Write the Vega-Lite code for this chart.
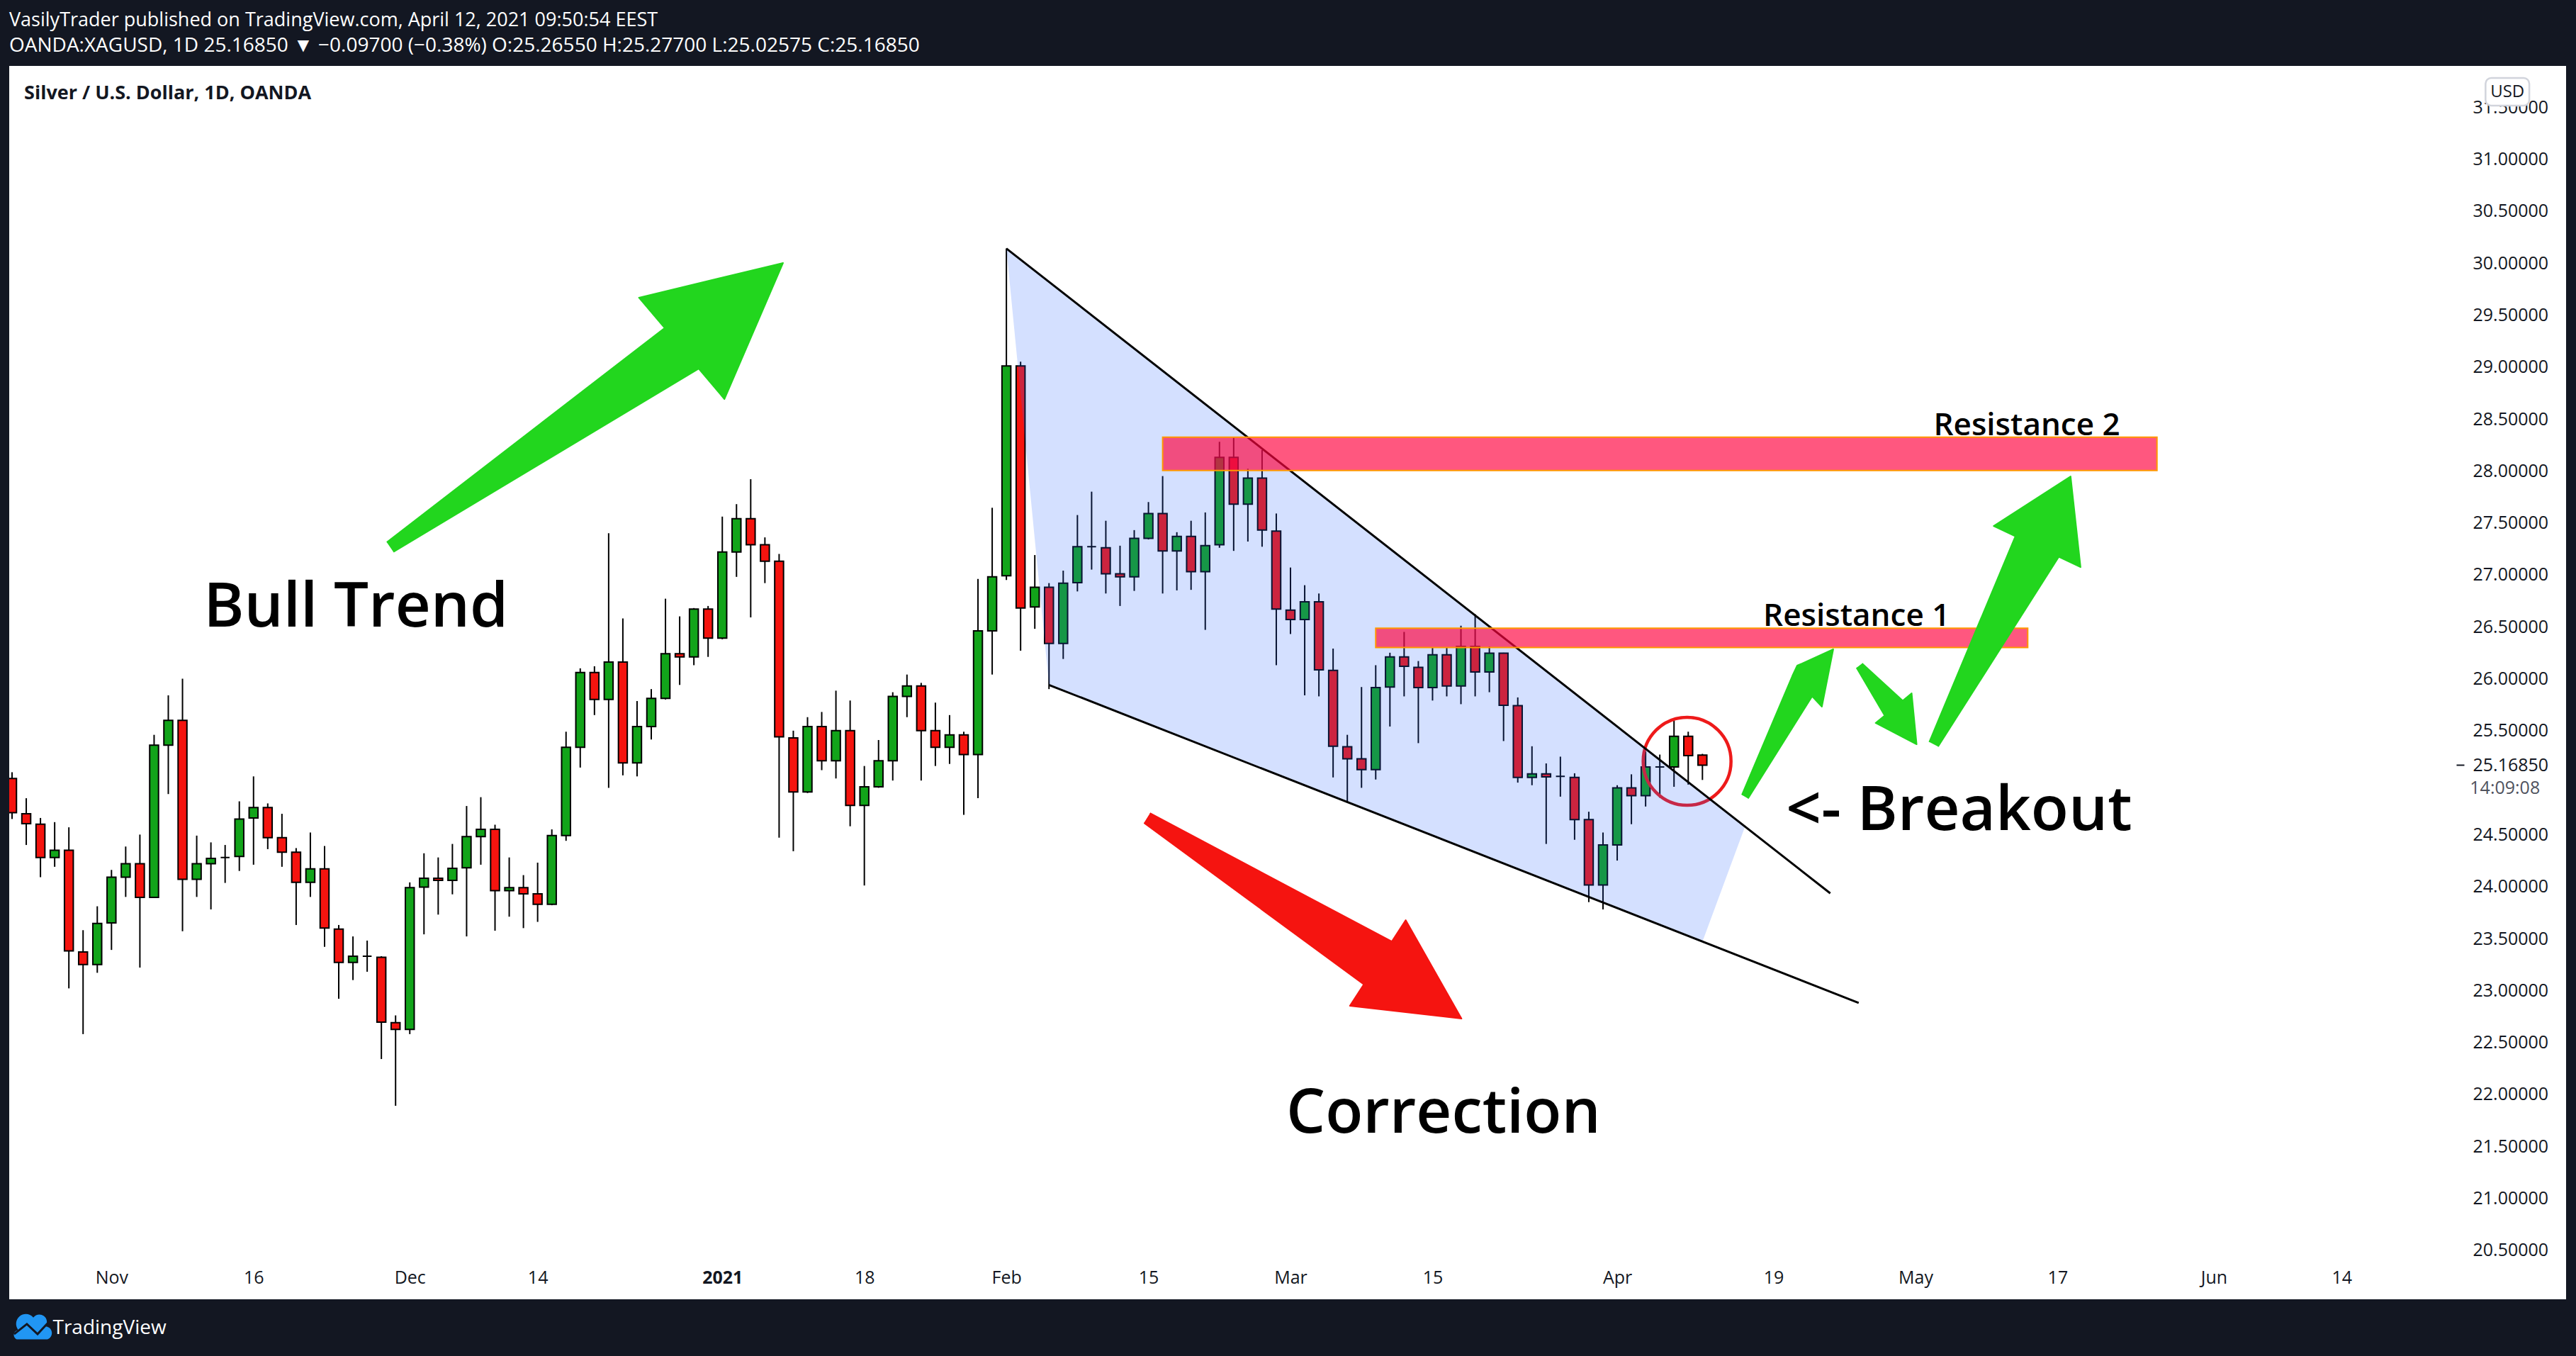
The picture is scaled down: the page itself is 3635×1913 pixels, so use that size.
{
  "$schema": "https://vega.github.io/schema/vega-lite/v6.json",
  "autosize": "none",
  "width": 3608,
  "height": 1740,
  "padding": {"left": 13, "top": 93, "right": 14, "bottom": 80},
  "background": "#131722",
  "config": {"view": {"fill": "#ffffff", "stroke": null}, "font": "Open Sans"},
  "title": {
    "text": "VasilyTrader published on TradingView.com, April 12, 2021 09:50:54 EEST",
    "subtitle": "OANDA:XAGUSD, 1D  25.16850 ▼ −0.09700 (−0.38%)  O:25.26550  H:25.27700  L:25.02575  C:25.16850",
    "anchor": "start", "frame": "group", "orient": "top", "offset": 13,
    "font": "Open Sans", "fontSize": 27, "fontWeight": "normal", "color": "#ffffff",
    "subtitleFont": "Open Sans", "subtitleFontSize": 28, "subtitleColor": "#ffffff", "subtitlePadding": 8
  },
  "layer": [
    {
      "data": {"values": [
        {"d":"2020-10-22","o":25.04,"h":25.10,"l":24.65,"c":24.71},
        {"d":"2020-10-23","o":24.70,"h":24.85,"l":24.40,"c":24.605},
        {"d":"2020-10-26","o":24.60,"h":24.66,"l":24.09,"c":24.28},
        {"d":"2020-10-27","o":24.28,"h":24.62,"l":24.19,"c":24.35},
        {"d":"2020-10-28","o":24.35,"h":24.57,"l":23.02,"c":23.38},
        {"d":"2020-10-29","o":23.37,"h":23.58,"l":22.58,"c":23.25},
        {"d":"2020-10-30","o":23.25,"h":23.81,"l":23.17,"c":23.645},
        {"d":"2020-11-02","o":23.65,"h":24.16,"l":23.39,"c":24.09},
        {"d":"2020-11-03","o":24.09,"h":24.385,"l":23.90,"c":24.22},
        {"d":"2020-11-04","o":24.22,"h":24.50,"l":23.22,"c":23.895},
        {"d":"2020-11-05","o":23.895,"h":25.46,"l":23.89,"c":25.36},
        {"d":"2020-11-06","o":25.36,"h":25.84,"l":24.89,"c":25.60},
        {"d":"2020-11-09","o":25.60,"h":26.00,"l":23.57,"c":24.07},
        {"d":"2020-11-10","o":24.07,"h":24.49,"l":23.90,"c":24.22},
        {"d":"2020-11-11","o":24.22,"h":24.425,"l":23.78,"c":24.27},
        {"d":"2020-11-12","o":24.28,"h":24.40,"l":24.035,"c":24.28},
        {"d":"2020-11-13","o":24.29,"h":24.82,"l":24.15,"c":24.65},
        {"d":"2020-11-16","o":24.66,"h":25.06,"l":24.21,"c":24.76},
        {"d":"2020-11-17","o":24.76,"h":24.80,"l":24.36,"c":24.47},
        {"d":"2020-11-18","o":24.47,"h":24.70,"l":24.19,"c":24.33},
        {"d":"2020-11-19","o":24.33,"h":24.37,"l":23.63,"c":24.04},
        {"d":"2020-11-20","o":24.04,"h":24.52,"l":23.90,"c":24.17},
        {"d":"2020-11-23","o":24.17,"h":24.39,"l":23.42,"c":23.60},
        {"d":"2020-11-24","o":23.59,"h":23.63,"l":22.92,"c":23.27},
        {"d":"2020-11-25","o":23.27,"h":23.52,"l":23.10,"c":23.33},
        {"d":"2020-11-26","o":23.33,"h":23.48,"l":23.18,"c":23.33},
        {"d":"2020-11-27","o":23.32,"h":23.33,"l":22.34,"c":22.695},
        {"d":"2020-11-30","o":22.69,"h":22.76,"l":21.89,"c":22.625},
        {"d":"2020-12-01","o":22.625,"h":24.04,"l":22.58,"c":23.99},
        {"d":"2020-12-02","o":23.995,"h":24.32,"l":23.54,"c":24.08},
        {"d":"2020-12-03","o":24.08,"h":24.28,"l":23.73,"c":24.06},
        {"d":"2020-12-04","o":24.06,"h":24.41,"l":23.925,"c":24.175},
        {"d":"2020-12-07","o":24.18,"h":24.775,"l":23.52,"c":24.48},
        {"d":"2020-12-08","o":24.48,"h":24.86,"l":24.21,"c":24.55},
        {"d":"2020-12-09","o":24.55,"h":24.595,"l":23.575,"c":23.96},
        {"d":"2020-12-10","o":23.96,"h":24.28,"l":23.71,"c":23.99},
        {"d":"2020-12-11","o":23.99,"h":24.11,"l":23.60,"c":23.93},
        {"d":"2020-12-14","o":23.93,"h":24.23,"l":23.66,"c":23.83},
        {"d":"2020-12-15","o":23.83,"h":24.55,"l":23.82,"c":24.49},
        {"d":"2020-12-16","o":24.49,"h":25.49,"l":24.44,"c":25.34},
        {"d":"2020-12-17","o":25.34,"h":26.10,"l":25.145,"c":26.06},
        {"d":"2020-12-18","o":26.06,"h":26.12,"l":25.65,"c":25.80},
        {"d":"2020-12-21","o":25.80,"h":27.40,"l":24.95,"c":26.16},
        {"d":"2020-12-22","o":26.16,"h":26.58,"l":25.07,"c":25.19},
        {"d":"2020-12-23","o":25.19,"h":25.785,"l":25.06,"c":25.54},
        {"d":"2020-12-24","o":25.54,"h":25.90,"l":25.415,"c":25.81},
        {"d":"2020-12-28","o":25.81,"h":26.77,"l":25.80,"c":26.24},
        {"d":"2020-12-29","o":26.24,"h":26.60,"l":25.94,"c":26.21},
        {"d":"2020-12-30","o":26.21,"h":26.68,"l":26.13,"c":26.67},
        {"d":"2020-12-31","o":26.67,"h":26.70,"l":26.21,"c":26.39},
        {"d":"2021-01-04","o":26.39,"h":27.56,"l":26.38,"c":27.22},
        {"d":"2021-01-05","o":27.22,"h":27.68,"l":26.98,"c":27.54},
        {"d":"2021-01-06","o":27.54,"h":27.92,"l":26.59,"c":27.29},
        {"d":"2021-01-07","o":27.29,"h":27.36,"l":26.92,"c":27.13},
        {"d":"2021-01-08","o":27.13,"h":27.20,"l":24.47,"c":25.44},
        {"d":"2021-01-11","o":25.43,"h":25.50,"l":24.34,"c":24.91},
        {"d":"2021-01-12","o":24.91,"h":25.63,"l":24.90,"c":25.54},
        {"d":"2021-01-13","o":25.54,"h":25.68,"l":25.12,"c":25.21},
        {"d":"2021-01-14","o":25.21,"h":25.885,"l":25.04,"c":25.50},
        {"d":"2021-01-15","o":25.50,"h":25.79,"l":24.58,"c":24.78},
        {"d":"2021-01-18","o":24.78,"h":25.16,"l":24.01,"c":24.96},
        {"d":"2021-01-19","o":24.96,"h":25.41,"l":24.95,"c":25.21},
        {"d":"2021-01-20","o":25.21,"h":25.87,"l":25.02,"c":25.83},
        {"d":"2021-01-21","o":25.83,"h":26.04,"l":25.63,"c":25.93},
        {"d":"2021-01-22","o":25.93,"h":25.96,"l":25.02,"c":25.50},
        {"d":"2021-01-25","o":25.50,"h":25.77,"l":25.16,"c":25.34},
        {"d":"2021-01-26","o":25.34,"h":25.65,"l":25.18,"c":25.46},
        {"d":"2021-01-27","o":25.46,"h":25.49,"l":24.69,"c":25.27},
        {"d":"2021-01-28","o":25.27,"h":26.96,"l":24.85,"c":26.46},
        {"d":"2021-01-29","o":26.46,"h":27.645,"l":26.04,"c":26.98},
        {"d":"2021-02-01","o":26.99,"h":30.14,"l":26.95,"c":29.01},
        {"d":"2021-02-02","o":29.01,"h":29.05,"l":26.27,"c":26.68},
        {"d":"2021-02-03","o":26.69,"h":27.19,"l":26.48,"c":26.88},
        {"d":"2021-02-04","o":26.88,"h":26.92,"l":25.90,"c":26.34},
        {"d":"2021-02-05","o":26.34,"h":27.04,"l":26.19,"c":26.92},
        {"d":"2021-02-08","o":26.925,"h":27.575,"l":26.84,"c":27.27},
        {"d":"2021-02-09","o":27.27,"h":27.80,"l":27.05,"c":27.27},
        {"d":"2021-02-10","o":27.26,"h":27.52,"l":26.82,"c":27.01},
        {"d":"2021-02-11","o":27.01,"h":27.28,"l":26.70,"c":26.98},
        {"d":"2021-02-12","o":26.98,"h":27.43,"l":26.845,"c":27.35},
        {"d":"2021-02-15","o":27.35,"h":27.70,"l":27.34,"c":27.59},
        {"d":"2021-02-16","o":27.59,"h":27.95,"l":26.82,"c":27.23},
        {"d":"2021-02-17","o":27.23,"h":27.41,"l":26.85,"c":27.37},
        {"d":"2021-02-18","o":27.37,"h":27.52,"l":26.855,"c":27.03},
        {"d":"2021-02-19","o":27.03,"h":27.60,"l":26.47,"c":27.28},
        {"d":"2021-02-22","o":27.29,"h":28.28,"l":27.26,"c":28.13},
        {"d":"2021-02-23","o":28.13,"h":28.32,"l":27.23,"c":27.68},
        {"d":"2021-02-24","o":27.68,"h":28.02,"l":27.32,"c":27.93},
        {"d":"2021-02-25","o":27.93,"h":28.20,"l":27.27,"c":27.43},
        {"d":"2021-02-26","o":27.42,"h":27.59,"l":26.13,"c":26.67},
        {"d":"2021-03-01","o":26.66,"h":27.07,"l":26.43,"c":26.57},
        {"d":"2021-03-02","o":26.57,"h":26.90,"l":25.84,"c":26.74},
        {"d":"2021-03-03","o":26.74,"h":26.82,"l":25.83,"c":26.085},
        {"d":"2021-03-04","o":26.08,"h":26.29,"l":25.05,"c":25.35},
        {"d":"2021-03-05","o":25.345,"h":25.46,"l":24.81,"c":25.23},
        {"d":"2021-03-08","o":25.23,"h":25.92,"l":24.95,"c":25.125},
        {"d":"2021-03-09","o":25.125,"h":26.13,"l":25.03,"c":25.915},
        {"d":"2021-03-10","o":25.92,"h":26.25,"l":25.54,"c":26.21},
        {"d":"2021-03-11","o":26.21,"h":26.45,"l":25.83,"c":26.12},
        {"d":"2021-03-12","o":26.11,"h":26.17,"l":25.38,"c":25.915},
        {"d":"2021-03-15","o":25.915,"h":26.30,"l":25.79,"c":26.23},
        {"d":"2021-03-16","o":26.23,"h":26.30,"l":25.83,"c":25.93},
        {"d":"2021-03-17","o":25.93,"h":26.51,"l":25.755,"c":26.31},
        {"d":"2021-03-18","o":26.31,"h":26.62,"l":25.83,"c":26.065},
        {"d":"2021-03-19","o":26.065,"h":26.31,"l":25.87,"c":26.245},
        {"d":"2021-03-22","o":26.245,"h":26.25,"l":25.40,"c":25.745},
        {"d":"2021-03-23","o":25.74,"h":25.82,"l":25.00,"c":25.05},
        {"d":"2021-03-24","o":25.05,"h":25.35,"l":24.975,"c":25.085},
        {"d":"2021-03-25","o":25.085,"h":25.185,"l":24.41,"c":25.055},
        {"d":"2021-03-26","o":25.06,"h":25.25,"l":24.865,"c":25.06},
        {"d":"2021-03-29","o":25.05,"h":25.09,"l":24.45,"c":24.645},
        {"d":"2021-03-30","o":24.645,"h":24.72,"l":23.85,"c":24.015},
        {"d":"2021-03-31","o":24.015,"h":24.52,"l":23.78,"c":24.40},
        {"d":"2021-04-01","o":24.40,"h":24.975,"l":24.25,"c":24.95},
        {"d":"2021-04-05","o":24.95,"h":25.08,"l":24.60,"c":24.875},
        {"d":"2021-04-06","o":24.875,"h":25.30,"l":24.77,"c":25.15},
        {"d":"2021-04-07","o":25.15,"h":25.27,"l":24.855,"c":25.15},
        {"d":"2021-04-08","o":25.15,"h":25.60,"l":24.96,"c":25.445},
        {"d":"2021-04-09","o":25.445,"h":25.49,"l":24.98,"c":25.26},
        {"d":"2021-04-12","o":25.2655,"h":25.277,"l":25.02575,"c":25.1685}
      ]},
      "transform": [{"window": [{"op": "row_number", "as": "n"}], "sort": [{"field": "d"}]}],
      "layer": [
        {
          "mark": {"type": "rule", "color": "#000000", "strokeWidth": 2, "clip": true},
          "encoding": {
            "x": {"field": "n", "type": "quantitative",
              "scale": {"domain": [1.0498, 180.55], "nice": false, "zero": false},
              "axis": {
                "orient": "bottom", "offset": -31, "title": "TradingView", "domain": false, "grid": false, "ticks": false,
                "values": [8, 18, 29, 38, 51, 61, 71, 81, 91, 101, 114, 125, 135, 145, 156, 165],
                "labelExpr": "datum.value == 8 ? 'Nov' : datum.value == 18 ? '16' : datum.value == 29 ? 'Dec' : datum.value == 38 ? '14' : datum.value == 51 ? '2021' : datum.value == 61 ? '18' : datum.value == 71 ? 'Feb' : datum.value == 81 ? '15' : datum.value == 91 ? 'Mar' : datum.value == 101 ? '15' : datum.value == 114 ? 'Apr' : datum.value == 125 ? '19' : datum.value == 135 ? 'May' : datum.value == 145 ? '17' : datum.value == 156 ? 'Jun' : '14'",
                "labelFont": "Open Sans", "labelFontSize": 25, "labelColor": "#131722",
                "labelFontWeight": {"condition": {"test": "datum.value == 51", "value": "bold"}, "value": "normal"},
                "labelPadding": 0, "labelBaseline": "middle", "labelAlign": "center", "labelFlush": false, "labelOverlap": false,
                "titleFont": "Open Sans", "titleFontSize": 28, "titleFontWeight": "normal", "titleColor": "#ffffff",
                "titleX": 61, "titleY": 71, "titleAlign": "left", "titleBaseline": "middle", "titleAngle": 0
              }},
            "y": {"field": "l", "type": "quantitative",
              "scale": {"domain": [20.028, 31.897], "nice": false, "zero": false},
              "axis": {
                "orient": "right", "offset": -155, "title": null, "domain": false, "grid": false,
                "values": [20.5, 21, 21.5, 22, 22.5, 23, 23.5, 24, 24.5, 25.1685, 25.5, 26, 26.5, 27, 27.5, 28, 28.5, 29, 29.5, 30, 30.5, 31, 31.5],
                "labelExpr": "format(datum.value, '.5f')",
                "ticks": true, "tickSize": 11, "tickWidth": 2,
                "tickColor": {"condition": {"test": "datum.value == 25.1685", "value": "#131722"}, "value": "rgba(0,0,0,0)"},
                "labelPadding": 12, "labelFont": "Open Sans", "labelFontSize": 25, "labelColor": "#131722",
                "labelFlush": false, "labelOverlap": false, "labelAlign": "left", "labelBaseline": "middle"
              }},
            "y2": {"field": "h"}
          }
        },
        {
          "mark": {"type": "bar", "size": 12.5, "stroke": "#000000", "strokeWidth": 2, "clip": true},
          "encoding": {
            "x": {"field": "n", "type": "quantitative"},
            "y": {"field": "o", "type": "quantitative"},
            "y2": {"field": "c"},
            "fill": {"condition": {"test": "datum.c >= datum.o", "value": "#12A41A"}, "value": "#F5140F"}
          }
        }
      ]
    },
    {
      "data": {"values": [{"n": 118.92, "p": 25.205}]},
      "mark": {"type": "point", "shape": "circle", "size": 15376, "filled": false, "color": "#EE1A1A", "strokeWidth": 4.5, "opacity": 1},
      "encoding": {"x": {"field": "n", "type": "quantitative"}, "y": {"field": "p", "type": "quantitative"}}
    },
    {
      "data": {"values": [
        {"n": 71, "p": 30.14, "p2": 30.14},
        {"n": 74, "p": 29.819, "p2": 25.94},
        {"n": 120, "p": 24.898, "p2": 23.47},
        {"n": 123, "p": 24.577, "p2": 24.577}
      ]},
      "mark": {"type": "area", "color": "#2962FF", "fillOpacity": 0.2, "opacity": 1, "line": false},
      "encoding": {"x": {"field": "n", "type": "quantitative"}, "y": {"field": "p", "type": "quantitative"}, "y2": {"field": "p2"}}
    },
    {
      "data": {"values": [
        {"id": "upper", "n": 71, "p": 30.14},
        {"id": "upper", "n": 129, "p": 23.935},
        {"id": "lower", "n": 74, "p": 25.94},
        {"id": "lower", "n": 131, "p": 22.88}
      ]},
      "mark": {"type": "line", "color": "#000000", "strokeWidth": 3},
      "encoding": {"x": {"field": "n", "type": "quantitative"}, "y": {"field": "p", "type": "quantitative"}, "detail": {"field": "id"}}
    },
    {
      "data": {"values": [
        {"name": "Resistance 2", "n": 82, "n2": 152, "p": 28.003, "p2": 28.324},
        {"name": "Resistance 1", "n": 97, "n2": 142.9, "p": 26.30, "p2": 26.486}
      ]},
      "mark": {"type": "rect", "fill": "#FF0540", "fillOpacity": 0.67, "stroke": "#FF9800", "strokeWidth": 2},
      "encoding": {"x": {"field": "n", "type": "quantitative"}, "x2": {"field": "n2"}, "y": {"field": "p", "type": "quantitative"}, "y2": {"field": "p2"}}
    },
    {
      "data": {"values": [
        {"id": "a1", "k": 1, "n": 27.38, "p": 27.313},
        {"id": "a1", "k": 2, "n": 46.94, "p": 29.375},
        {"id": "a1", "k": 3, "n": 45.13, "p": 29.667},
        {"id": "a1", "k": 4, "n": 55.28, "p": 30.001},
        {"id": "a1", "k": 5, "n": 51.15, "p": 28.691},
        {"id": "a1", "k": 6, "n": 49.34, "p": 28.984},
        {"id": "a1", "k": 7, "n": 27.85, "p": 27.220},
        {"id": "a2", "k": 1, "n": 122.78, "p": 24.882},
        {"id": "a2", "k": 2, "n": 126.33, "p": 26.027},
        {"id": "a2", "k": 3, "n": 126.67, "p": 26.126},
        {"id": "a2", "k": 4, "n": 129.21, "p": 26.283},
        {"id": "a2", "k": 5, "n": 128.41, "p": 25.731},
        {"id": "a2", "k": 6, "n": 127.72, "p": 25.830},
        {"id": "a2", "k": 7, "n": 123.21, "p": 24.847},
        {"id": "a3", "k": 1, "n": 130.85, "p": 26.106},
        {"id": "a3", "k": 2, "n": 132.83, "p": 25.645},
        {"id": "a3", "k": 3, "n": 132.19, "p": 25.574},
        {"id": "a3", "k": 4, "n": 135.08, "p": 25.369},
        {"id": "a3", "k": 5, "n": 134.73, "p": 25.860},
        {"id": "a3", "k": 6, "n": 134.10, "p": 25.789},
        {"id": "a3", "k": 7, "n": 131.24, "p": 26.147},
        {"id": "a4", "k": 1, "n": 135.97, "p": 25.391},
        {"id": "a4", "k": 2, "n": 142.03, "p": 27.371},
        {"id": "a4", "k": 3, "n": 140.50, "p": 27.470},
        {"id": "a4", "k": 4, "n": 145.92, "p": 27.947},
        {"id": "a4", "k": 5, "n": 146.62, "p": 27.074},
        {"id": "a4", "k": 6, "n": 145.09, "p": 27.173},
        {"id": "a4", "k": 7, "n": 136.59, "p": 25.347}
      ]},
      "mark": {"type": "line", "fill": "#22D61E", "stroke": "#22D61E", "strokeWidth": 2, "strokeJoin": "round"},
      "encoding": {"x": {"field": "n", "type": "quantitative"}, "y": {"field": "p", "type": "quantitative"}, "detail": {"field": "id"}, "order": {"field": "k"}}
    },
    {
      "data": {"values": [
        {"k": 1, "n": 80.69, "p": 24.613},
        {"k": 2, "n": 96.16, "p": 23.058},
        {"k": 3, "n": 95.18, "p": 22.852},
        {"k": 4, "n": 103.04, "p": 22.729},
        {"k": 5, "n": 99.11, "p": 23.677},
        {"k": 6, "n": 98.13, "p": 23.471},
        {"k": 7, "n": 81.11, "p": 24.706}
      ]},
      "mark": {"type": "line", "fill": "#F51410", "stroke": "#F51410", "strokeWidth": 2, "strokeJoin": "round"},
      "encoding": {"x": {"field": "n", "type": "quantitative"}, "y": {"field": "p", "type": "quantitative"}, "order": {"field": "k"}}
    },
    {
      "data": {"values": [
        {"t": "Bull Trend", "n": 14.48, "p": 26.50},
        {"t": "Correction", "n": 90.70, "p": 21.63},
        {"t": "<- Breakout", "n": 125.88, "p": 24.544}
      ]},
      "mark": {"type": "text", "font": "Open Sans", "fontSize": 87, "fontWeight": 600, "color": "#000000", "align": "left", "baseline": "alphabetic"},
      "encoding": {"x": {"field": "n", "type": "quantitative"}, "y": {"field": "p", "type": "quantitative"}, "text": {"field": "t"}}
    },
    {
      "data": {"values": [
        {"t": "Resistance 1", "n": 124.28, "p": 26.508},
        {"t": "Resistance 2", "n": 136.27, "p": 28.343}
      ]},
      "mark": {"type": "text", "font": "Open Sans", "fontSize": 44, "fontWeight": 600, "color": "#000000", "align": "left", "baseline": "alphabetic"},
      "encoding": {"x": {"field": "n", "type": "quantitative"}, "y": {"field": "p", "type": "quantitative"}, "text": {"field": "t"}}
    },
    {
      "data": {"values": [{"t": "Silver / U.S. Dollar, 1D, OANDA", "n": 1.85, "p": 31.633}]},
      "mark": {"type": "text", "font": "Open Sans", "fontSize": 27, "fontWeight": "bold", "color": "#131722", "align": "left", "baseline": "middle"},
      "encoding": {"x": {"field": "n", "type": "quantitative"}, "y": {"field": "p", "type": "quantitative"}, "text": {"field": "t"}}
    },
    {
      "data": {"values": [{"t": "14:09:08", "n": 174.03, "p": 24.946}]},
      "mark": {"type": "text", "font": "Open Sans", "fontSize": 25, "color": "#50535E", "align": "left", "baseline": "middle"},
      "encoding": {"x": {"field": "n", "type": "quantitative"}, "y": {"field": "p", "type": "quantitative"}, "text": {"field": "t"}}
    },
    {
      "data": {"values": [{"n": 175.13, "n2": 178.21, "p": 31.515, "p2": 31.781}]},
      "mark": {"type": "rect", "fill": "#ffffff", "stroke": "#D1D4DC", "strokeWidth": 2.5, "cornerRadius": 8},
      "encoding": {"x": {"field": "n", "type": "quantitative"}, "x2": {"field": "n2"}, "y": {"field": "p", "type": "quantitative"}, "y2": {"field": "p2"}}
    },
    {
      "data": {"values": [{"t": "USD", "n": 176.67, "p": 31.645}]},
      "mark": {"type": "text", "font": "Open Sans", "fontSize": 24, "color": "#131722", "align": "center", "baseline": "middle"},
      "encoding": {"x": {"field": "n", "type": "quantitative"}, "y": {"field": "p", "type": "quantitative"}, "text": {"field": "t"}}
    },
    {
      "data": {"values": [{"item": "logo", "n": 2.47, "p": 19.755}]},
      "mark": {"type": "point", "shape": "M -0.8 0.58 A 0.24 0.24 0 0 1 -0.72 0.12 A 0.42 0.42 0 0 1 0.02 -0.5 A 0.36 0.36 0 0 1 0.62 -0.06 A 0.33 0.33 0 0 1 0.72 0.58 Z", "size": 3249, "filled": true, "color": "#2196F3", "opacity": 1, "strokeWidth": 0},
      "encoding": {"x": {"field": "n", "type": "quantitative"}, "y": {"field": "p", "type": "quantitative"}}
    },
    {
      "data": {"values": [{"item": "logo line", "n": 2.47, "p": 19.755}]},
      "mark": {"type": "point", "shape": "M -0.93 0.32 L -0.3 -0.18 L 0.23 0.32 L 0.72 -0.21", "size": 3249, "filled": false, "color": "#131722", "opacity": 1, "strokeWidth": 3},
      "encoding": {"x": {"field": "n", "type": "quantitative"}, "y": {"field": "p", "type": "quantitative"}}
    }
  ]
}
